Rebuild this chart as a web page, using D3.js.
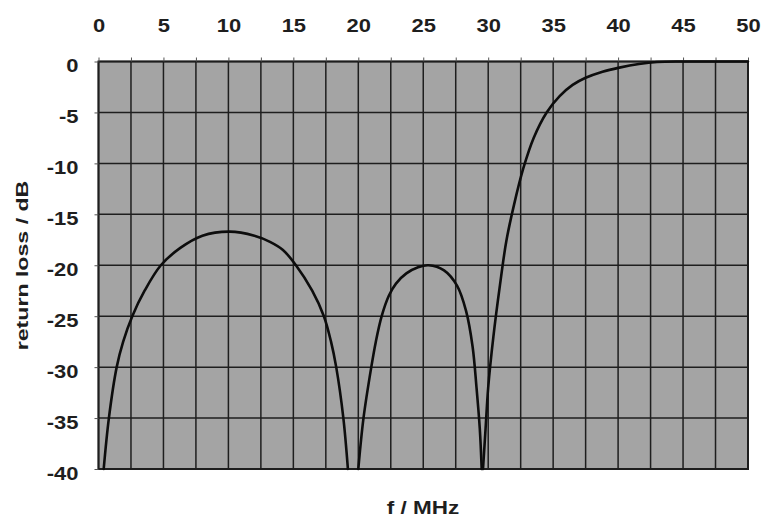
<!DOCTYPE html>
<html><head><meta charset="utf-8">
<script src="https://cdn.jsdelivr.net/npm/d3@7/dist/d3.min.js"></script>
<style>body{margin:0;background:#fff}svg{display:block}</style>
</head><body>
<svg id="chart" width="776" height="518"></svg>
<script>
// ---- data ----
const xTickValues = [0, 5, 10, 15, 20, 25, 30, 35, 40, 45, 50];
const xGridValues = [0, 2.5, 5, 7.5, 10, 12.5, 15, 17.5, 20, 22.5, 25, 27.5, 30, 32.5, 35, 37.5, 40, 42.5, 45, 47.5, 50];
const yTickValues = [0, -5, -10, -15, -20, -25, -30, -35, -40];

const lobe1Freq = [0.4, 0.8, 1.4, 1.9, 2.6, 3.55, 4.8, 6.3, 8.0, 10.1, 12.0, 13.2, 14.2, 15.2, 16.45, 17.35, 17.9, 18.3, 18.85, 19.2];
const lobe1Loss = [-40, -35, -30, -27.5, -25, -22.5, -20, -18.3, -17.1, -16.7, -17.1, -17.7, -18.5, -20, -22.5, -25, -27.5, -30, -35, -40];
const lobe2Freq = [20.0, 20.4, 21.0, 21.35, 21.8, 22.35, 22.9, 23.7, 24.6, 25.4, 26.6, 27.6, 28.3, 28.8, 29.1, 29.35, 29.5];
const lobe2Loss = [-40, -35, -30, -27.5, -25, -23, -21.8, -20.8, -20.2, -20.0, -20.5, -22, -24.5, -28, -32, -36, -40];
const lobe3Freq = [29.6, 29.8, 30.0, 30.4, 30.9, 31.4, 32.0, 32.7, 33.5, 34.5, 35.5, 36.5, 37.5, 38.8, 40.1, 41.6, 43.0, 45, 50];
const lobe3Loss = [-40, -36, -32, -27, -22, -17.6, -14, -10.5, -7.5, -5.0, -3.4, -2.3, -1.6, -1.0, -0.6, -0.25, -0.05, 0, 0];

const xTitle = "f / MHz";
const yTitle = "return loss / dB";

// ---- layout ----
const svg = d3.select("#chart");
const pLeft = 98.5, pRight = 748, pTop = 61.5, pBottom = 469;
const x = d3.scaleLinear().domain([0, 50]).range([pLeft, pRight]);
const y = d3.scaleLinear().domain([0, -40]).range([pTop, pBottom]);
const FONT = "'Liberation Sans', Arial, Helvetica, sans-serif";
const INK = "#1e1e1e";

// background
svg.append("rect").attr("x", pLeft).attr("y", pTop)
  .attr("width", pRight - pLeft).attr("height", pBottom - pTop)
  .attr("fill", "#a4a4a4");

// grid
svg.append("g").selectAll("line").data(xGridValues).join("line")
  .attr("x1", d => x(d)).attr("x2", d => x(d))
  .attr("y1", pTop).attr("y2", pBottom)
  .attr("stroke", INK).attr("stroke-width", 1.5);
svg.append("g").selectAll("line").data(yTickValues).join("line")
  .attr("y1", d => y(d)).attr("y2", d => y(d))
  .attr("x1", pLeft).attr("x2", pRight)
  .attr("stroke", INK).attr("stroke-width", 1.5);

// border
svg.append("rect").attr("x", pLeft).attr("y", pTop)
  .attr("width", pRight - pLeft).attr("height", pBottom - pTop)
  .attr("fill", "none").attr("stroke", INK).attr("stroke-width", 2);

// axes
const xAxis = d3.axisTop(x).tickValues(xGridValues).tickSize(4).tickPadding(26)
  .tickFormat(d => xTickValues.includes(d) ? d3.format("d")(d) : "");
const gx = svg.append("g").attr("transform", `translate(0,${pTop})`).call(xAxis);
const yAxis = d3.axisLeft(y).tickValues(yTickValues).tickSize(4).tickPadding(16)
  .tickFormat(d => d3.format("d")(d).replace("\u2212", "-"));
const gy = svg.append("g").attr("transform", `translate(${pLeft},0)`).call(yAxis);

[gx, gy].forEach(g => {
  g.select(".domain").remove();
  g.selectAll(".tick line").attr("stroke", "#555").attr("stroke-width", 1);
  g.selectAll(".tick text")
    .attr("fill", INK).attr("font-family", FONT).attr("font-size", 18)
    .attr("font-weight", "bold");
});
gx.selectAll(".tick text").attr("dy", 0);
gy.selectAll(".tick text").attr("dy", "0.58em");

function stretch(sel, k) {
  sel.each(function () {
    const w = this.getComputedTextLength();
    if (w > 0) d3.select(this).attr("textLength", w * k).attr("lengthAdjust", "spacingAndGlyphs");
  });
}
stretch(gx.selectAll(".tick text"), 1.22);
stretch(gy.selectAll(".tick text"), 1.22);

// titles
const xt = svg.append("text").attr("x", 423).attr("y", 514).attr("text-anchor", "middle")
  .attr("font-family", FONT).attr("font-size", 18).attr("font-weight", "bold")
  .attr("fill", INK).text(xTitle);
stretch(xt, 1.25);
const yt = svg.append("text").attr("transform", "translate(28,265.5) rotate(-90)")
  .attr("text-anchor", "middle")
  .attr("font-family", FONT).attr("font-size", 17).attr("font-weight", "bold")
  .attr("fill", INK).text(yTitle);
stretch(yt, 1.36);

// curve
const line = d3.line().x(d => x(d[0])).y(d => y(d[1])).curve(d3.curveCatmullRom.alpha(0.5));
const segments = [
  d3.zip(lobe1Freq, lobe1Loss),
  d3.zip(lobe2Freq, lobe2Loss),
  d3.zip(lobe3Freq, lobe3Loss)
];
svg.append("g").selectAll("path").data(segments).join("path")
  .attr("d", line).attr("fill", "none")
  .attr("stroke", "#0d0d0d").attr("stroke-width", 2.6)
  .attr("stroke-linejoin", "round").attr("stroke-linecap", "round");
</script>
</body></html>
